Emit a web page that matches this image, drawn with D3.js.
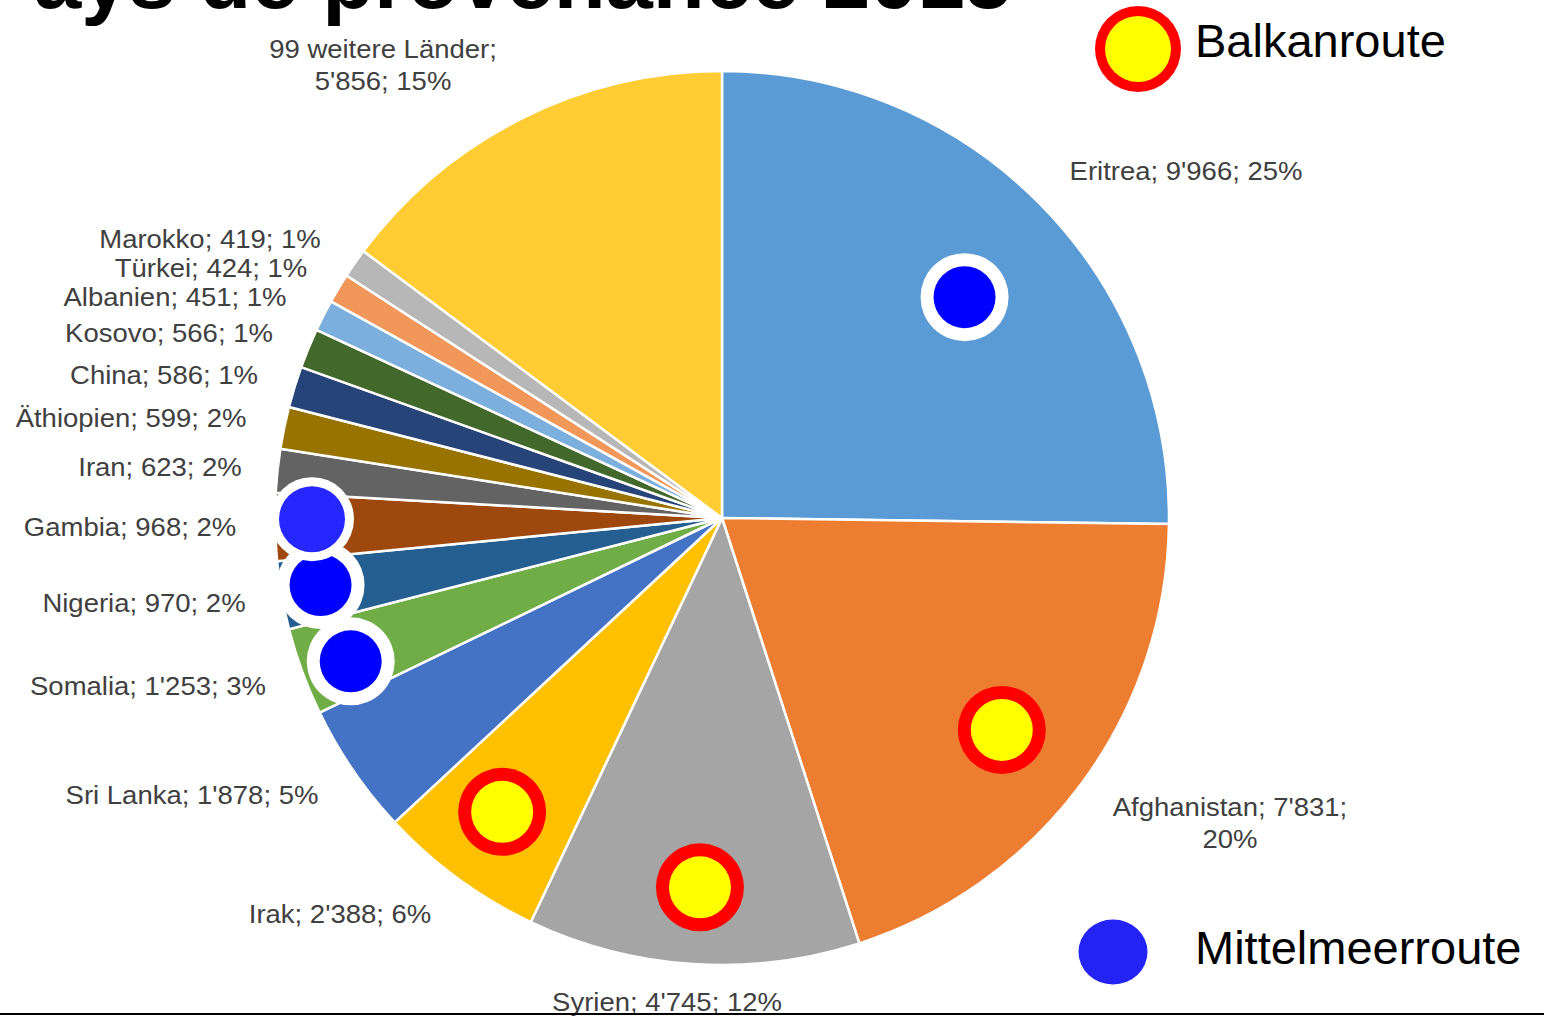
<!DOCTYPE html>
<html>
<head>
<meta charset="utf-8">
<script src="https://cdn.jsdelivr.net/npm/d3@7"></script>
<style>
  body { margin: 0; background: #fff; }
  svg { display: block; font-family: Arial, "Liberation Sans", sans-serif; }
</style>
</head>
<body>
<div id="app"></div>
<script>
(function (d3) {

  'use strict'

  // countries, clockwise from 12 o'clock
  const countries = ['Eritrea', 'Afghanistan', 'Syrien', 'Irak', 'Sri Lanka', 'Somalia', 'Nigeria', 'Gambia',
    'Iran', 'Äthiopien', 'China', 'Kosovo', 'Albanien', 'Türkei', 'Marokko', '99 weitere Länder']
  const values = [9966, 7831, 4745, 2388, 1878, 1253, 970, 968, 623, 599, 586, 566, 451, 424, 419, 5856]
  const routes = ['Mittelmeer', 'Balkan', 'Balkan', 'Balkan', null, 'Mittelmeer', 'Mittelmeer', 'Mittelmeer',
    null, null, null, null, null, null, null, null]
  const colors = ['#5b9bd5', '#ed7d31', '#a5a5a5', '#ffc000', '#4472c4', '#70ad47', '#255e91', '#9e480e',
    '#636363', '#997300', '#264478', '#43682b', '#7cafdd', '#f1975a', '#b7b7b7', '#ffcd33']
  const titleText = 'Pays de provenance 2015'
  const legendItems = ['Balkanroute', 'Mittelmeerroute']

  const w = 1544
  const h = 1016
  const cx = 722
  const cy = 518
  const radius = 447

  // where the data labels sit (centre x, first baseline), as placed in the original
  const labelPos = {
    'Eritrea': [1186, 180], 'Afghanistan': [1230, 816], 'Syrien': [667, 1011], 'Irak': [340, 923],
    'Sri Lanka': [192, 804], 'Somalia': [148, 695], 'Nigeria': [144, 612], 'Gambia': [130, 536],
    'Iran': [160, 476], 'Äthiopien': [131, 427], 'China': [164, 384], 'Kosovo': [169, 342],
    'Albanien': [175, 306], 'Türkei': [211, 277], 'Marokko': [210, 248], '99 weitere Länder': [383, 58]
  }
  // route markers: distance from centre, and a small turn off the slice middle (degrees)
  const markerPos = {
    'Eritrea': [328, 2.3], 'Afghanistan': [351, 0.7], 'Syrien': [370, -0.3], 'Irak': [367, 0.6],
    'Nigeria': [407, 0.5], 'Somalia': [398, -1], 'Gambia': [410, 1]
  }
  const markerOrder = ['Eritrea', 'Afghanistan', 'Syrien', 'Irak', 'Nigeria', 'Somalia', 'Gambia']

  const total = d3.sum(values)
  const fmt = v => d3.format(',')(v).replace(/,/g, "'")
  const data = countries.map((c, i) => ({ name: c, value: values[i], route: routes[i], color: colors[i] }))

  const svg = d3.select('#app')
    .append('svg')
    .attr('width', w)
    .attr('height', h)

  // title, cut by the top edge (the "P" falls off the left side)
  svg.append('text')
    .attr('x', 1012)
    .attr('y', 8)
    .attr('text-anchor', 'end')
    .style('font-size', '85px')
    .style('font-weight', 'bold')
    .style('fill', '#000')
    .text(titleText)

  const pie = d3.pie().sort(null).value(d => d.value)
  const arcs = pie(data)
  const arc = d3.arc().innerRadius(0).outerRadius(radius)

  const g = svg.append('g').attr('transform', 'translate(' + cx + ',' + cy + ')')

  g.selectAll('path')
    .data(arcs)
    .enter()
    .append('path')
    .attr('d', arc)
    .attr('fill', d => d.data.color)
    .attr('stroke', '#fff')
    .attr('stroke-width', 2.5)
    .attr('stroke-linejoin', 'round')

  // route markers
  const byName = {}
  arcs.forEach(a => { byName[a.data.name] = a })
  markerOrder.forEach(function (name) {
    const a = byName[name]
    const m = markerPos[name]
    const ang = (a.startAngle + a.endAngle) / 2 + m[1] * Math.PI / 180
    const x = Math.sin(ang) * m[0]
    const y = -Math.cos(ang) * m[0]
    const balkan = a.data.route === 'Balkan'
    g.append('circle')
      .attr('cx', x).attr('cy', y)
      .attr('r', name === 'Gambia' ? 42 : 44)
      .attr('fill', balkan ? '#ff0000' : '#ffffff')
    g.append('circle')
      .attr('cx', x).attr('cy', y)
      .attr('r', name === 'Gambia' ? 33 : 31)
      .attr('fill', balkan ? '#ffff00' : (name === 'Gambia' ? '#2626ff' : '#0000ff'))
  })

  // data labels
  const labels = svg.append('g')
    .style('font-size', '25px')
    .style('fill', '#404040')
  arcs.forEach(function (a) {
    const d = a.data
    const p = labelPos[d.name]
    const pct = Math.round(d.value / total * 100) + '%'
    let lines = [d.name + '; ' + fmt(d.value) + '; ' + pct]
    if (d.name === '99 weitere Länder') lines = [d.name + ';', fmt(d.value) + '; ' + pct]
    if (d.name === 'Afghanistan') lines = [d.name + '; ' + fmt(d.value) + ';', pct]
    const t = labels.append('text')
      .attr('transform', 'translate(' + p[0] + ',' + p[1] + ') scale(1.1,1)')
      .attr('text-anchor', 'middle')
    lines.forEach(function (l, i) {
      t.append('tspan').attr('x', 0).attr('y', i * 32).text(l)
    })
  })

  // legend
  const leg = svg.append('g')
  leg.append('circle').attr('cx', 1138).attr('cy', 49).attr('r', 43).attr('fill', '#ff0000')
  leg.append('circle').attr('cx', 1138).attr('cy', 49).attr('r', 33).attr('fill', '#ffff00')
  leg.append('text').attr('x', 1195).attr('y', 57)
    .style('font-size', '47px').style('fill', '#000').text(legendItems[0])
  leg.append('ellipse').attr('cx', 1113).attr('cy', 952).attr('rx', 34.5).attr('ry', 32.5).attr('fill', '#2323f5')
  leg.append('text').attr('x', 1195).attr('y', 964)
    .style('font-size', '47px').style('fill', '#000').text(legendItems[1])

  // rule along the bottom edge
  svg.append('line')
    .attr('x1', 0).attr('x2', w)
    .attr('y1', 1014).attr('y2', 1014)
    .attr('stroke', '#000')
    .attr('stroke-width', 2)

}(d3))
</script>
</body>
</html>
